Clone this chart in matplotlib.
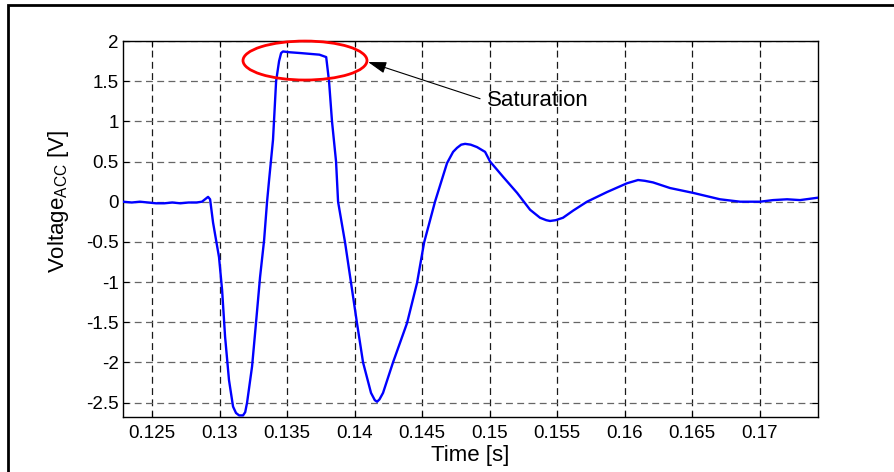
import numpy as np
import matplotlib
matplotlib.use("Agg")
import matplotlib.pyplot as plt
from matplotlib.patches import Ellipse, Rectangle

plt.rcParams['font.family'] = ['Liberation Sans', 'DejaVu Sans']
plt.rcParams['mathtext.default'] = 'regular'

# accelerometer output around the impact
time_s = [0.12285, 0.1235, 0.1241, 0.1247, 0.1253, 0.1259, 0.1265, 0.1271,
          0.1277, 0.1283, 0.1287, 0.1290, 0.12915, 0.1293,
          0.12952, 0.12996, 0.13019, 0.13041, 0.13070, 0.13100, 0.13122,
          0.13145, 0.13174, 0.13190, 0.13204, 0.13241, 0.13270, 0.13300,
          0.13330, 0.13352, 0.13367, 0.13396, 0.13419, 0.13441, 0.13456,
          0.13470, 0.1352, 0.1360, 0.1367, 0.1374, 0.1379,
          0.13811, 0.13833, 0.13863, 0.13878, 0.13930, 0.13974, 0.14018,
          0.14063, 0.14122, 0.14150, 0.14167, 0.14185, 0.14211, 0.14285,
          0.14389, 0.14463, 0.14515, 0.14596, 0.14685, 0.14730, 0.14759,
          0.14790, 0.14819, 0.14860, 0.14907, 0.14967, 0.15004, 0.15100,
          0.15204, 0.15300, 0.15374, 0.15420, 0.15448, 0.15490, 0.15544,
          0.15620, 0.15722, 0.15870, 0.16019, 0.16060, 0.1610, 0.16150,
          0.16211, 0.16337, 0.16507, 0.16707, 0.16856, 0.17004, 0.17100,
          0.17204, 0.17300, 0.17433]
voltage = [0.00, -0.01, 0.00, -0.01, -0.02, -0.02, -0.01, -0.02,
           -0.01, -0.01, 0.00, 0.04, 0.06, 0.03,
           -0.26, -0.69, -1.10, -1.68, -2.22, -2.55, -2.63,
           -2.66, -2.66, -2.62, -2.50, -2.05, -1.51, -0.94,
           -0.48, 0.00, 0.27, 0.77, 1.50, 1.75, 1.85,
           1.87, 1.86, 1.85, 1.84, 1.83, 1.80,
           1.50, 1.00, 0.50, 0.00, -0.51, -1.01, -1.51,
           -2.00, -2.38, -2.47, -2.49, -2.46, -2.38, -2.00,
           -1.51, -1.01, -0.51, 0.00, 0.48, 0.62, 0.67,
           0.71, 0.72, 0.71, 0.68, 0.62, 0.50, 0.31,
           0.11, -0.10, -0.20, -0.23, -0.24, -0.23, -0.20,
           -0.11, 0.00, 0.12, 0.23, 0.25, 0.27, 0.26,
           0.24, 0.17, 0.11, 0.03, 0.00, 0.00, 0.02,
           0.03, 0.02, 0.05]

x_ticks = [0.125, 0.13, 0.135, 0.14, 0.145, 0.15, 0.155, 0.16, 0.165, 0.17]
x_tick_labels = ['0.125', '0.13', '0.135', '0.14', '0.145', '0.15',
                 '0.155', '0.16', '0.165', '0.17']
y_ticks = [-2.5, -2, -1.5, -1, -0.5, 0, 0.5, 1, 1.5, 2]
y_tick_labels = ['-2.5', '-2', '-1.5', '-1', '-0.5', '0', '0.5', '1', '1.5', '2']


def main():
    fig = plt.figure(figsize=(8.94, 4.72), dpi=100)
    ax = fig.add_axes([0.1376, 0.1165, 0.7774, 0.7966])

    ax.plot(time_s, voltage, color='#0000ff', lw=1.7, zorder=3)

    ax.set_xlim(0.12285, 0.17433)
    ax.set_ylim(-2.68, 2)
    ax.set_xticks(x_ticks)
    ax.set_xticklabels(x_tick_labels)
    ax.set_yticks(y_ticks)
    ax.set_yticklabels(y_tick_labels)
    ax.tick_params(direction='in', top=True, right=True, length=4,
                   width=0.8, labelsize=13.5)
    ax.tick_params(axis='x', pad=6)
    ax.tick_params(axis='y', pad=3)
    for s in ax.spines.values():
        s.set_linewidth(1.0)

    ax.xaxis.grid(True, color='0.1', linestyle=(0, (5.5, 3.5)), lw=0.9)
    ax.yaxis.grid(True, color='0.4', linestyle=(0, (5.5, 3.5)), lw=0.9)
    ax.set_axisbelow(True)

    ax.set_xlabel('Time [s]', fontsize=16, labelpad=2)
    ax.set_ylabel(r'Voltage$_{ACC}$ [V]', fontsize=16)
    ax.yaxis.set_label_coords(-0.075, 0.574)

    # highlight the clipped peak
    ell = Ellipse((0.13633, 1.757), 0.009185, 0.485, fill=False,
                  ec='red', lw=2, clip_on=False, zorder=4)
    ax.add_patch(ell)
    ax.annotate('Saturation', xy=(0.1410, 1.739), xytext=(0.1498, 1.254),
                ha='left', va='center', fontsize=16,
                arrowprops=dict(arrowstyle='-|>,head_length=0.7,head_width=0.22',
                                color='k', lw=0.8, shrinkA=3, shrinkB=0,
                                relpos=(0, 0.5)))

    # outer frame of the figure
    fig.patches.append(Rectangle((8 / 894, -0.1), 1.2, 1.1 - 5 / 472,
                                 transform=fig.transFigure, fill=False,
                                 ec='k', lw=2, clip_on=False))

    fig.savefig('out.png', dpi=100)


if __name__ == "__main__":
    main()
